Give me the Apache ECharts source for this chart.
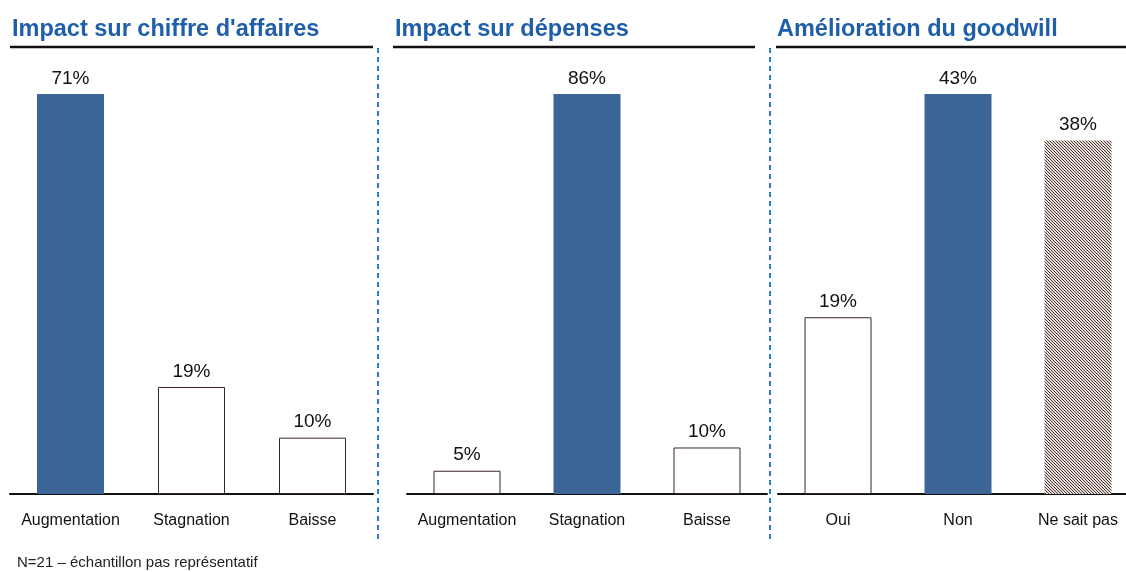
<!DOCTYPE html>
<html>
<head>
<meta charset="utf-8">
<script src="https://cdn.jsdelivr.net/npm/echarts@6/dist/echarts.min.js"></script>
<style>
  html, body { margin: 0; padding: 0; background: #fff; overflow: hidden; }
  /* the last panel runs past the right edge of the page */
  #chart { width: 1140px; height: 572px; }
</style>
</head>
<body>
<div id="chart"></div>
<script>
// Survey results, three panels (percent of respondents)
const titles = ["Impact sur chiffre d'affaires", "Impact sur dépenses", "Amélioration du goodwill"];
const catsRevenue = ["Augmentation", "Stagnation", "Baisse"];
const valsRevenue = [71, 19, 10];
const catsCosts = ["Augmentation", "Stagnation", "Baisse"];
const valsCosts = [5, 86, 10];
const catsGoodwill = ["Oui", "Non", "Ne sait pas"];
const valsGoodwill = [19, 43, 38];
const footnote = "N=21 – échantillon pas représentatif";

const FONT = '"Liberation Sans", Arial, sans-serif';
const BLUE_BAR = '#3c6597';

// diagonal hatch tile for the "don't know" answer, drawn pixel by pixel
function hatchTile() {
  const n = 3;
  const c = document.createElement('canvas');
  c.width = n; c.height = n;
  const g = c.getContext('2d');
  for (let y = 0; y < n; y++) {
    for (let x = 0; x < n; x++) {
      g.fillStyle = ((x - y + n) % n === 0) ? '#4a3b38' : '#e6dbd7';
      g.fillRect(x, y, 1, 1);
    }
  }
  return c;
}
const hatch = { image: hatchTile(), repeat: 'repeat' };

const styles = {
  filled: { color: BLUE_BAR },
  outline: { color: '#ffffff', borderColor: '#3a2622', borderWidth: 1 },
  hatched: { color: hatch }
};

const panels = [
  { cats: catsRevenue, vals: valsRevenue, kinds: ['filled', 'outline', 'outline'],
    grid: { left: 10, width: 363 }, titleX: 7, rule: [10, 373] },
  { cats: catsCosts, vals: valsCosts, kinds: ['outline', 'filled', 'outline'],
    grid: { left: 407, width: 360 }, titleX: 390, rule: [393, 755] },
  { cats: catsGoodwill, vals: valsGoodwill, kinds: ['outline', 'filled', 'hatched'],
    grid: { left: 778, width: 360 }, titleX: 772, rule: [776, 1140] }
];

const grid = [], xAxis = [], yAxis = [], series = [], title = [], graphic = [];

panels.forEach((p, i) => {
  grid.push({ left: p.grid.left, width: p.grid.width, top: 94, height: 400 });
  xAxis.push({
    type: 'category', gridIndex: i, data: p.cats,
    axisLine: { lineStyle: { color: '#111', width: 2 } },
    axisTick: { show: false },
    axisLabel: { color: '#111', fontSize: 16, fontFamily: FONT, margin: 19, interval: 0 }
  });
  yAxis.push({ type: 'value', gridIndex: i, min: 0, max: 'dataMax', show: false, splitLine: { show: false } });
  series.push({
    type: 'bar', xAxisIndex: i, yAxisIndex: i, barWidth: 67,
    data: p.vals.map((v, k) => ({ value: v, itemStyle: styles[p.kinds[k]] })),
    label: { show: true, position: 'top', distance: 6, formatter: '{c}%',
             color: '#111', fontSize: 19, fontFamily: FONT },
    emphasis: { disabled: true },
    animation: false
  });
  title.push({
    text: titles[i], left: p.titleX, top: 13,
    textStyle: { color: '#1f5ea8', fontSize: 23.5, fontWeight: 'bold', fontFamily: FONT }
  });
  graphic.push({
    type: 'line', shape: { x1: p.rule[0], y1: 47, x2: p.rule[1], y2: 47 },
    style: { stroke: '#111', lineWidth: 2.5 }
  });
});

// dashed separators between the panels
[378, 770].forEach(x => graphic.push({
  type: 'line', shape: { x1: x, y1: 48, x2: x, y2: 540 },
  style: { stroke: '#2f7ad0', lineWidth: 2, lineDash: [5, 4] }
}));

graphic.push({
  type: 'text', left: 17, top: 555,
  style: { text: footnote, fill: '#222', font: '15px ' + FONT }
});

const chart = echarts.init(document.getElementById('chart'), null, { renderer: 'canvas' });
chart.setOption({
  backgroundColor: '#fff',
  animation: false,
  title, grid, xAxis, yAxis, series, graphic
});
</script>
</body>
</html>
